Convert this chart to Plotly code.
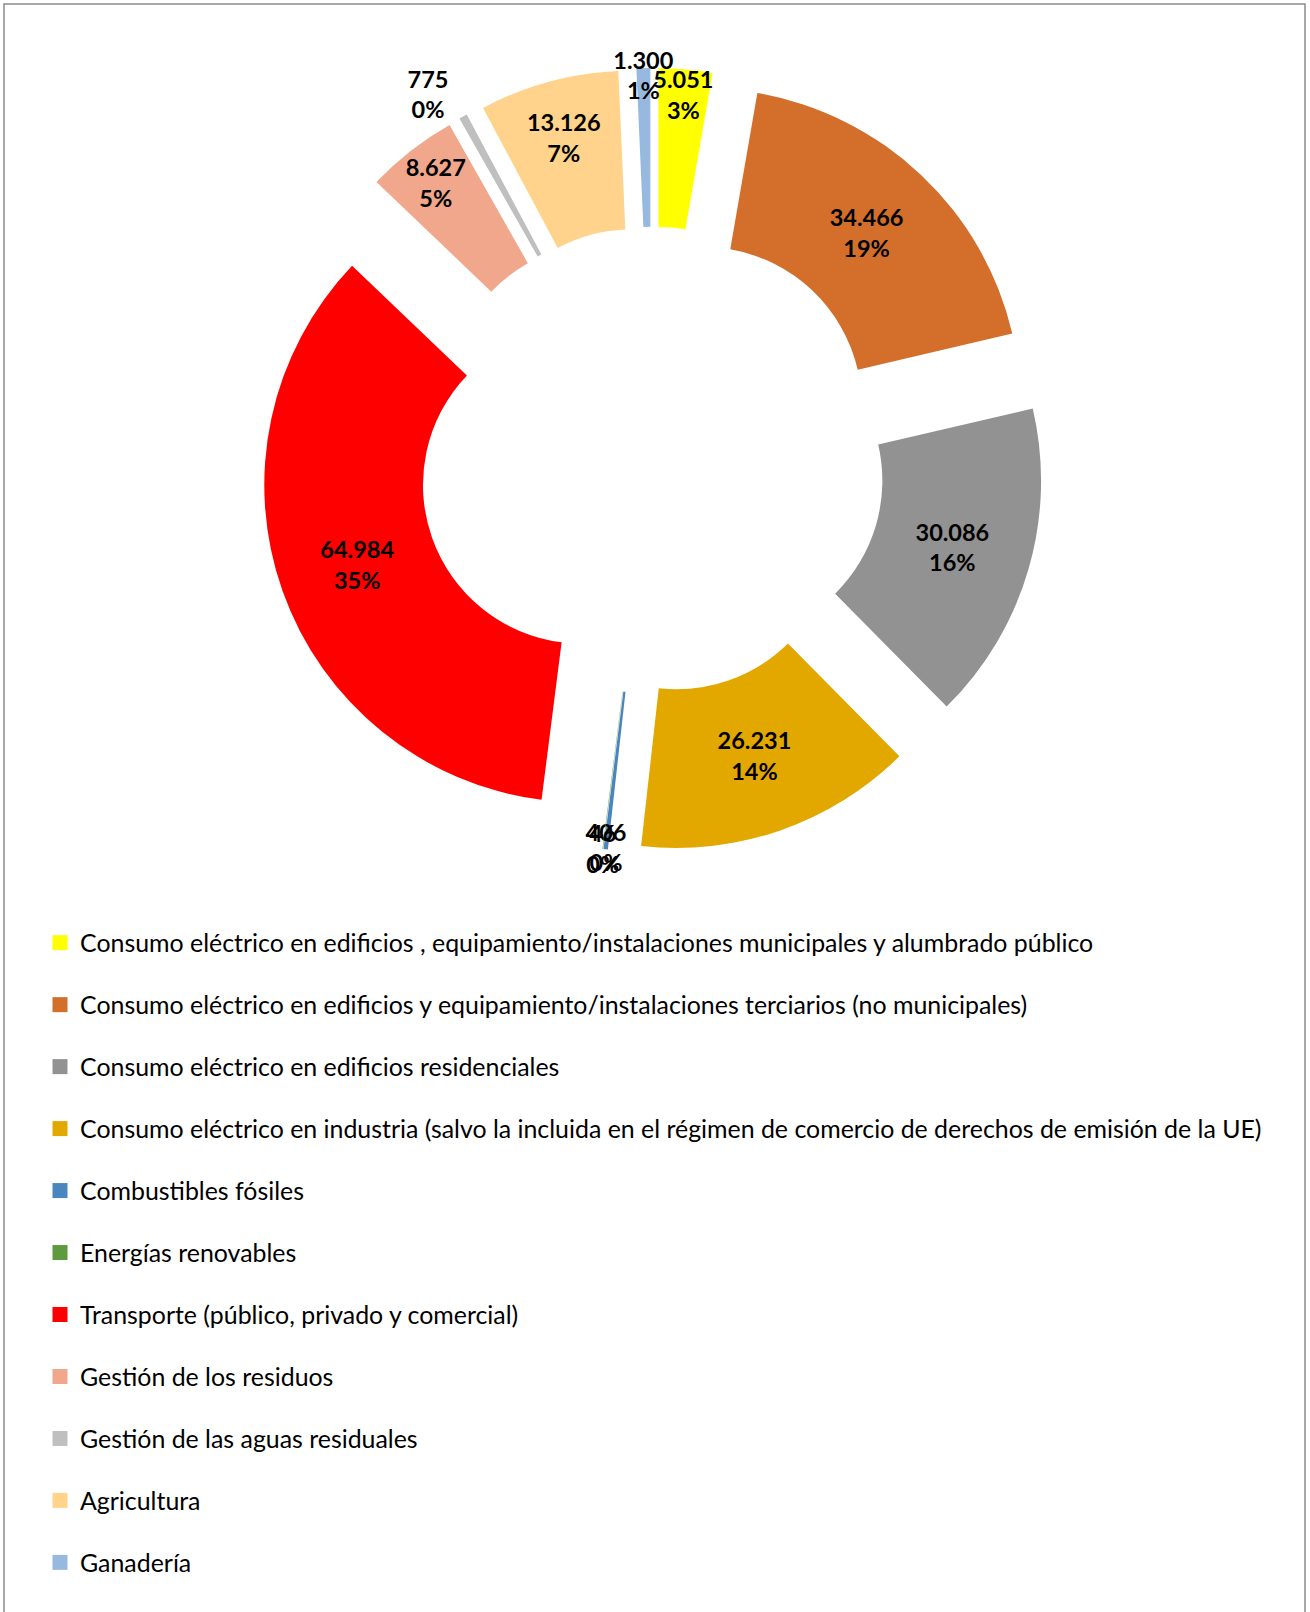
import plotly.graph_objects as go

categories = [
    "Consumo eléctrico en edificios , equipamiento/instalaciones municipales y alumbrado público",
    "Consumo eléctrico en edificios y equipamiento/instalaciones terciarios (no municipales)",
    "Consumo eléctrico en edificios residenciales",
    "Consumo eléctrico en industria (salvo la incluida en el régimen de comercio de derechos de emisión de la UE)",
    "Combustibles fósiles",
    "Energías renovables",
    "Transporte (público, privado y comercial)",
    "Gestión de los residuos",
    "Gestión de las aguas residuales",
    "Agricultura",
    "Ganadería",
]
values = [5051, 34466, 30086, 26231, 406, 46, 64984, 8627, 775, 13126, 1300]
colors = ["#FFFF00", "#D36E2B", "#929292", "#E3A800", "#4A86BE", "#5E9A3E",
          "#FF0000", "#F0A78B", "#BFBFBF", "#FFD38B", "#97B9E0"]
label_positions = ["inside", "inside", "inside", "inside", "inside", "inside",
                   "inside", "inside", "outside", "inside", "inside"]

W, H = 1310, 1612
CX, CY, HALF = 652, 460, 392

fig = go.Figure()
fig.add_trace(go.Pie(
    labels=categories,
    values=values,
    sort=False,
    direction="clockwise",
    rotation=0,
    hole=0.5,
    pull=0.235,
    marker=dict(colors=colors, line=dict(width=0)),
    texttemplate="%{value:,.0f}<br>%{percent:.0%}",
    textposition=label_positions,
    insidetextorientation="horizontal",
    textfont=dict(family="Lato", size=23.5, color="black", weight="bold"),
    domain=dict(x=[(CX - HALF) / W, (CX + HALF) / W],
                y=[1 - (CY + HALF) / H, 1 - (CY - HALF) / H]),
    showlegend=False,
))

for name, col in zip(categories, colors):
    fig.add_trace(go.Scatter(
        x=[None], y=[None], mode="markers", name=name, legendgroup=name,
        marker=dict(symbol="square", size=15, color=col),
    ))

fig.update_layout(
    width=W, height=H,
    margin=dict(l=0, r=0, t=0, b=0, autoexpand=False),
    paper_bgcolor="white", plot_bgcolor="white",
    separators=",.",
    uniformtext=dict(minsize=23.5, mode="show"),
    xaxis=dict(visible=False), yaxis=dict(visible=False),
    showlegend=True,
    legend=dict(
        x=40 / W, xanchor="left", y=1 - 920 / H, yanchor="top",
        font=dict(family="Lato", size=24.9, color="black"),
        tracegroupgap=26.6, itemwidth=30,
        bgcolor="rgba(0,0,0,0)",
    ),
    shapes=[dict(type="rect", xref="paper", yref="paper",
                 x0=4 / W, x1=1305 / W, y0=-0.05, y1=1 - 4 / H,
                 line=dict(color="#8c8c8c", width=1.5))],
)

fig.write_html("out.html", config={"displayModeBar": False},
               post_script="document.body.style.margin='0px';")
